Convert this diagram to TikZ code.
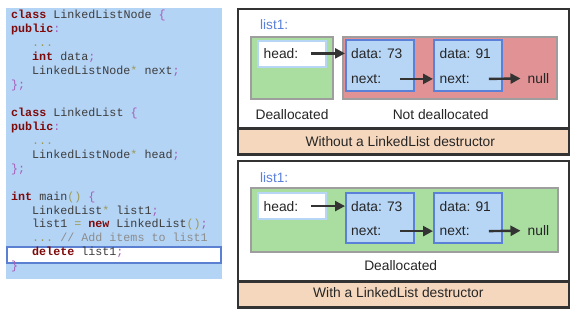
\documentclass[tikz,border=0pt]{standalone}
\usepackage{fontspec}
\setmainfont{Liberation Sans}
\setmonofont{Liberation Mono}
\usetikzlibrary{positioning}
\usetikzlibrary{arrows.meta}

\definecolor{codebg}{HTML}{B4D4F6}
\definecolor{codetxt}{HTML}{3C3C3C}
\definecolor{kwred}{HTML}{7F0A0A}
\definecolor{punc}{HTML}{A55CB8}
\definecolor{dotolive}{HTML}{9C9A55}
\definecolor{cmtgray}{HTML}{8C8C8C}
\definecolor{hlblue}{HTML}{5B80D2}
\definecolor{nodeblue}{HTML}{B7D6F6}
\definecolor{nodeline}{HTML}{5B80D8}
\definecolor{freedgreen}{HTML}{A9DEA0}
\definecolor{leakedred}{HTML}{E09294}
\definecolor{boxgray}{HTML}{9E9E9E}
\definecolor{bandpeach}{HTML}{F5D7BD}
\definecolor{panelline}{HTML}{333333}
\definecolor{listblue}{HTML}{5B80DB}

% code colouring
\newcommand{\kwd}[1]{\textcolor{kwred}{\bfseries #1}}
\newcommand{\pnc}[1]{\textcolor{punc}{#1}}
\newcommand{\oli}[1]{\textcolor{dotolive}{#1}}
\newcommand{\cmt}[1]{\textcolor{cmtgray}{#1}}

\tikzset{
    codepane/.style = {fill=codebg, inner sep=0pt, minimum width=215.7pt, minimum height=271pt},
    hlbox/.style = {draw=hlblue, fill=white, line width=2pt, inner sep=0pt, minimum width=214.5pt, minimum height=16.6pt},
    codeline/.style = {anchor=base west, inner sep=0pt, text=codetxt, font=\ttfamily\fontsize{11.7}{14}\selectfont},
    panel/.style = {draw=panelline, line width=2.2pt, fill=white, inner sep=0pt, minimum width=330.7pt},
    band/.style = {draw=panelline, line width=2.2pt, fill=bandpeach, inner sep=0pt, minimum width=330.7pt, minimum height=26pt},
    region/.style = {draw=boxgray, line width=2.2pt, inner sep=0pt},
    headbox/.style = {draw=nodeblue, fill=white, line width=2pt, inner sep=0pt, minimum width=67.7pt, minimum height=25.7pt},
    llnode/.style = {draw=nodeline, fill=nodeblue, line width=2pt, inner sep=0pt, minimum width=68pt, minimum height=50.8pt},
    lbl/.style = {anchor=base west, inner sep=0pt, text=black!85, font=\fontsize{13.8}{16}\selectfont},
    mid/.style = {anchor=base, inner sep=0pt, text=black!85, font=\fontsize{13.8}{16}\selectfont},
    listname/.style = {anchor=base west, inner sep=0pt, text=listblue, font=\fontsize{13.6}{16}\selectfont},
    ptr/.style = {draw=panelline, line width=2.4pt, -{Triangle[length=10pt,width=10pt]}}
}

\begin{document}
\begin{tikzpicture}[x=1pt, y=-1pt]
    \useasboundingbox (0,0) rectangle (588,314);

    % --- source listing ---
    \node[codepane] (code) at (113.85,143.8) {};
    \node[hlbox] (hl) at (113.85,255) {};
    \node[codeline] (c1) at (11,18.7) {\kwd{class} LinkedListNode \pnc{\{}};
    \node[codeline] (c2) at (11,32.65) {\kwd{public}\pnc{:}};
    \node[codeline] (c3) at (32,46.6) {\oli{...}};
    \node[codeline] (c4) at (32,60.55) {\kwd{int} data\pnc{;}};
    \node[codeline] (c5) at (32,74.5) {LinkedListNode\oli{*} next\pnc{;}};
    \node[codeline] (c6) at (11,88.45) {\pnc{\};}};
    \node[codeline] (c8) at (11,116.35) {\kwd{class} LinkedList \pnc{\{}};
    \node[codeline] (c9) at (11,130.3) {\kwd{public}\pnc{:}};
    \node[codeline] (c10) at (32,144.25) {\oli{...}};
    \node[codeline] (c11) at (32,158.2) {LinkedListNode\oli{*} head\pnc{;}};
    \node[codeline] (c12) at (11,172.15) {\pnc{\};}};
    \node[codeline] (c14) at (11,200.05) {\kwd{int} main\oli{()} \pnc{\{}};
    \node[codeline] (c15) at (32,214) {LinkedList\oli{*} list1\pnc{;}};
    \node[codeline] (c16) at (32,227.95) {list1 \oli{=} \kwd{new} LinkedList\oli{()}\pnc{;}};
    \node[codeline] (c17) at (32,241.9) {\oli{...} \cmt{// Add items to list1}};
    \node[codeline] (c18) at (32,255.85) {\kwd{delete} list1\pnc{;}};
    \node[codeline] (c19) at (11,269.8) {\pnc{\}}};

    % --- without a destructor ---
    \node[panel, minimum height=146pt] (pan1) at (403.65,82) {};
    \node[band] (band1) at (403.65,141.5) {};
    \node[mid] (cap1) at (400.3,146.7) {Without a LinkedList destructor};
    \node[listname] (ln1) at (260,29.3) {list1:};
    \node[region, fill=freedgreen, minimum width=82.3pt, minimum height=62.3pt] (g1) at (291.85,67.85) {};
    \node[region, fill=leakedred, minimum width=214.3pt, minimum height=62.3pt] (r1) at (449.85,67.85) {};
    \node[headbox] (hb1) at (291.85,54) {};
    \node[llnode] (n11) at (380,65.5) {};
    \node[llnode] (n12) at (468,65.5) {};
    \node[lbl] (h1) at (263.5,58.3) {head:};
    \node[lbl] (d11) at (351,58.3) {data: 73};
    \node[lbl] (x11) at (351,83.3) {next:};
    \node[lbl] (d12) at (439.5,58.3) {data: 91};
    \node[lbl] (x12) at (439.5,83.3) {next:};
    \node[lbl] (nul1) at (527.5,83.3) {null};
    \node[mid] (fr1) at (292,119) {Deallocated};
    \node[mid] (nf1) at (440.7,119) {Not deallocated};
    \draw[ptr] ([xshift=13pt]h1.east) -- (n11.west |- h1);
    \draw[ptr] ([xshift=19pt]x11.east) -- (n12.west |- x11);
    \draw[ptr, shorten >=7pt] ([xshift=19pt]x12.east) -- (nul1.west);

    % --- with a destructor ---
    \node[panel, minimum height=146.6pt] (pan2) at (403.65,234) {};
    \node[band] (band2) at (403.65,294.5) {};
    \node[mid] (cap2) at (398.3,297.7) {With a LinkedList destructor};
    \node[listname] (ln2) at (260,182) {list1:};
    \node[region, fill=freedgreen, minimum width=307pt, minimum height=63.4pt] (g2) at (404.2,220) {};
    \node[headbox] (hb2) at (291.85,206.15) {};
    \node[llnode] (n21) at (380,218) {};
    \node[llnode] (n22) at (468,218) {};
    \node[lbl] (h2) at (263.5,211) {head:};
    \node[lbl] (d21) at (351,211) {data: 73};
    \node[lbl] (x21) at (351,235.5) {next:};
    \node[lbl] (d22) at (439.5,211) {data: 91};
    \node[lbl] (x22) at (439.5,235.5) {next:};
    \node[lbl] (nul2) at (527.5,235.5) {null};
    \node[mid] (fr2) at (400.7,270.7) {Deallocated};
    \draw[ptr] ([xshift=13pt]h2.east) -- (n21.west |- h2);
    \draw[ptr] ([xshift=19pt]x21.east) -- (n22.west |- x21);
    \draw[ptr, shorten >=7pt] ([xshift=19pt]x22.east) -- (nul2.west);
\end{tikzpicture}
\end{document}
